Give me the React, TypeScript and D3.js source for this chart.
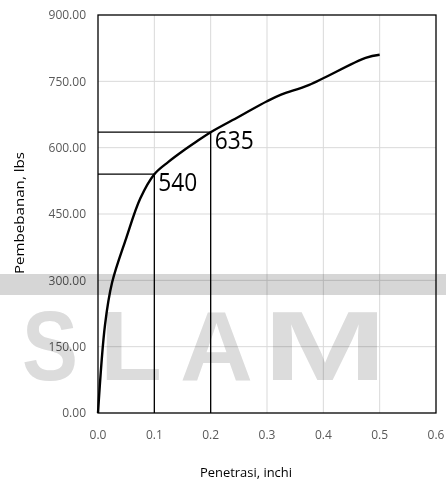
import * as d3 from "d3";

// penetration (inch) vs load (lbs)
const penetrasi = [0, 0.0125, 0.025, 0.05, 0.075, 0.1, 0.125, 0.15, 0.175, 0.2, 0.25, 0.3, 0.325, 0.375, 0.475, 0.5];
const beban = [0, 200, 295, 395, 485, 540, 568, 592, 614, 635, 670, 705, 720, 742, 803, 810];

// marked readings
const markX = [0.1, 0.2];
const markY = [540, 635];
const markLabel = ["540", "635"];

const xTicks = [0, 0.1, 0.2, 0.3, 0.4, 0.5, 0.6];
const yTicks = [0, 150, 300, 450, 600, 750, 900];

const watermarkLetters = ["S", "L", "A", "M"];

const W = 446;
const H = 485;
const margin = { top: 15, right: 10, bottom: 72, left: 98 };

export default function App() {
  const x = d3.scaleLinear([0, 0.6], [margin.left, W - margin.right]);
  const y = d3.scaleLinear([0, 900], [H - margin.bottom, margin.top]);
  const pts: [number, number][] = penetrasi.map((p, i) => [p, beban[i]]);
  const line = d3.line<[number, number]>()
    .x(d => x(d[0]))
    .y(d => y(d[1]))
    .curve(d3.curveCatmullRom.alpha(0.5));

  const tickFont = "'Open Sans', sans-serif";
  const wmX = [22, 100, 180, 263];
  const wmW = [56, 62, 73, 124];

  return (
    <svg width={W} height={H} style={{ position: "absolute", left: 0, top: 0, background: "#fff" }}>
      {/* gridlines */}
      <g stroke="#d9d9d9" strokeWidth={1}>
        {yTicks.slice(1, -1).map(t => (
          <line key={"gy" + t} x1={x(0)} x2={x(0.6)} y1={y(t)} y2={y(t)} />
        ))}
        {xTicks.slice(1, -1).map(t => (
          <line key={"gx" + t} x1={x(t)} x2={x(t)} y1={y(0)} y2={y(900)} />
        ))}
      </g>

      {/* tick labels */}
      <g fontFamily={tickFont} fontSize={12} fill="#595959">
        {yTicks.map(t => (
          <text key={"ty" + t} x={86} y={y(t)} dy="0.35em" textAnchor="end">{t.toFixed(2)}</text>
        ))}
        {xTicks.map(t => (
          <text key={"tx" + t} x={x(t)} y={439} textAnchor="middle">{t.toFixed(1)}</text>
        ))}
      </g>

      {/* scanned watermark */}
      <g fill="#d6d6d6" style={{ mixBlendMode: "multiply" }}>
        <rect x={0} y={274} width={W} height={21} />
        {watermarkLetters.map((l, i) => (
          <text key={l} x={wmX[i]} y={380} fontFamily="'Liberation Sans', sans-serif" fontWeight="bold"
            fontSize={98} textLength={wmW[i]} lengthAdjust="spacingAndGlyphs" fill="#dcdcdc">{l}</text>
        ))}
      </g>

      {/* plot frame */}
      <rect x={x(0)} y={y(900)} width={x(0.6) - x(0)} height={y(0) - y(900)}
        fill="none" stroke="#000" strokeWidth={1.3} />

      {/* reading lines */}
      <g stroke="#000" strokeWidth={1.3}>
        {markX.map((mx, i) => (
          <g key={"m" + i}>
            <line x1={x(0)} x2={x(mx)} y1={y(markY[i])} y2={y(markY[i])} />
            <line x1={x(mx)} x2={x(mx)} y1={y(markY[i])} y2={y(0)} />
          </g>
        ))}
      </g>

      <path d={line(pts) ?? ""} fill="none" stroke="#000" strokeWidth={2.4} strokeLinejoin="round" />

      {markLabel.map((lab, i) => (
        <text key={lab} x={x(markX[i]) + 4} y={y(markY[i]) + 17} fontFamily={tickFont}
          fontSize={26} textLength={39} lengthAdjust="spacingAndGlyphs" fill="#000">{lab}</text>
      ))}

      {/* axis titles */}
      <text transform={`translate(24,213) rotate(-90)`} textAnchor="middle" fontFamily={tickFont}
        fontSize={13} fill="#000" textLength={122} lengthAdjust="spacingAndGlyphs">Pembebanan, lbs</text>
      <text x={246} y={477} textAnchor="middle" fontFamily={tickFont} fontSize={13} fill="#000"
        textLength={92} lengthAdjust="spacingAndGlyphs">Penetrasi, inchi</text>
    </svg>
  );
}
